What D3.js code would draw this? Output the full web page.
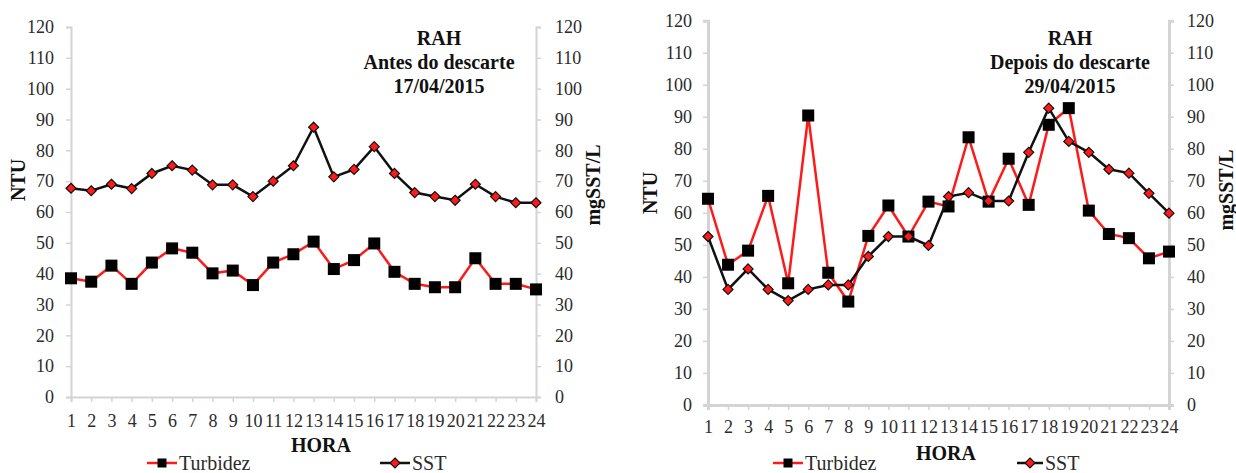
<!DOCTYPE html>
<html>
<head>
<meta charset="utf-8">
<script src="https://cdn.jsdelivr.net/npm/d3@7"></script>
<style>
  html, body { margin: 0; padding: 0; background: #fff; }
  svg { display: block; }
</style>
</head>
<body>
<svg id="chart" width="1236" height="473"></svg>
<script>
// ---------- DATA ----------
const hours = d3.range(1, 25).map(String);
const yTicks = [0, 10, 20, 30, 40, 50, 60, 70, 80, 90, 100, 110, 120];

// Chart A: Antes do descarte 17/04/2015
const titleA = ["RAH", "Antes do descarte", "17/04/2015"];
const turbidezA = [38.5, 37.4, 42.6, 36.7, 43.6, 48.2, 46.8, 40.1, 41.0, 36.3, 43.6, 46.3,
                   50.4, 41.5, 44.4, 49.8, 40.6, 36.7, 35.6, 35.6, 45.0, 36.7, 36.7, 34.9];
const sstA = [67.7, 66.9, 69.0, 67.6, 72.5, 75.0, 73.6, 68.8, 68.8, 65.0, 70.0, 75.0,
              87.5, 71.4, 73.8, 81.2, 72.5, 66.3, 65.0, 63.8, 69.0, 65.0, 63.0, 63.0];

// Chart B: Depois do descarte 29/04/2015
const titleB = ["RAH", "Depois do descarte", "29/04/2015"];
const turbidezB = [64.4, 43.8, 48.2, 65.3, 38.0, 90.4, 41.3, 32.3, 52.8, 62.3, 52.6, 63.5,
                   62.0, 83.6, 63.5, 76.9, 62.5, 87.5, 92.7, 60.7, 53.4, 52.1, 45.8, 47.9];
const sstB = [52.6, 36.1, 42.5, 36.1, 32.6, 36.1, 37.5, 37.5, 46.4, 52.6, 52.6, 49.8,
              65.1, 66.3, 63.7, 63.7, 78.9, 92.7, 82.3, 78.9, 73.6, 72.4, 66.1, 59.9];

const seriesNames = ["Turbidez", "SST"];
const xTitle = "HORA";
const yLeftTitle = "NTU";
const yRightTitle = "mgSST/L";

// ---------- DRAW ----------
const FONT = "'Liberation Serif', 'Times New Roman', Times, 'DejaVu Serif', serif";
const svg = d3.select("#chart").attr("font-family", FONT);
const RED = "#ff1a1a";
const AXIS = "#d4d4d4";
const TXT = "#2b2b2b";

function drawChart(cfg) {
  const g = svg.append("g");
  const x = d3.scalePoint().domain(hours).range([cfg.x0, cfg.x1]);
  const y = d3.scaleLinear().domain([0, 120]).range([cfg.yb, cfg.yt]);

  const axL = d3.axisLeft(y).tickValues(yTicks).tickSize(5).tickPadding(cfg.padL);
  const axR = d3.axisRight(y).tickValues(yTicks).tickSize(5).tickPadding(cfg.padR);
  const axB = d3.axisBottom(x).tickSize(5).tickPadding(cfg.padB);

  const styleAxis = sel => {
    sel.attr("font-family", FONT).attr("font-size", 18);
    sel.select(".domain").attr("stroke", AXIS).attr("stroke-width", cfg.aw);
    sel.selectAll(".tick line").attr("stroke", AXIS).attr("stroke-width", 1.5);
    sel.selectAll(".tick text").attr("fill", TXT).attr("font-family", FONT).attr("font-size", 18);
  };
  g.append("g").attr("transform", `translate(${cfg.x0},0)`).call(axL).call(styleAxis);
  g.append("g").attr("transform", `translate(${cfg.x1},0)`).call(axR).call(styleAxis);
  g.append("g").attr("transform", `translate(0,${cfg.yb})`).call(axB).call(styleAxis);

  const line = d3.line().x((d, i) => x(hours[i])).y(d => y(d));

  // Turbidez: red line, black squares
  g.append("path").datum(cfg.turb).attr("d", line)
    .attr("fill", "none").attr("stroke", RED).attr("stroke-width", 2.5);
  const sq = cfg.sq;
  g.selectAll(".sq").data(cfg.turb).join("rect")
    .attr("x", (d, i) => x(hours[i]) - sq / 2).attr("y", d => y(d) - sq / 2)
    .attr("width", sq).attr("height", sq).attr("fill", "#000");

  // SST: black line, red diamonds
  g.append("path").datum(cfg.sst).attr("d", line)
    .attr("fill", "none").attr("stroke", "#111").attr("stroke-width", 2.5);
  const dm = 5;
  const diamond = `M0,${-dm}L${dm},0L0,${dm}L${-dm},0Z`;
  g.selectAll(".dm").data(cfg.sst).join("path")
    .attr("d", diamond)
    .attr("transform", (d, i) => `translate(${x(hours[i])},${y(d)})`)
    .attr("fill", RED).attr("stroke", "#111").attr("stroke-width", 1.2);

  // title
  g.append("g").selectAll("text").data(cfg.title).join("text")
    .attr("x", cfg.tx).attr("y", (d, i) => cfg.ty[i])
    .attr("text-anchor", "middle").attr("font-weight", "bold").attr("font-family", FONT)
    .attr("font-size", 20).attr("fill", "#111").text(d => d);

  // axis titles
  g.append("text").attr("x", cfg.hx).attr("y", cfg.hy).attr("text-anchor", "middle")
    .attr("font-weight", "bold").attr("font-size", 20).attr("font-family", FONT)
    .attr("fill", "#111").text(xTitle);
  g.append("text").attr("transform", `translate(${cfg.nx},${cfg.ny}) rotate(-90)`)
    .attr("text-anchor", "middle").attr("font-weight", "bold").attr("font-size", 20)
    .attr("font-family", FONT).attr("fill", "#111").text(yLeftTitle);
  g.append("text").attr("transform", `translate(${cfg.mx},${cfg.my}) rotate(-90)`)
    .attr("text-anchor", "middle").attr("font-weight", "bold").attr("font-size", 20)
    .attr("font-family", FONT).attr("fill", "#111").text(yRightTitle);

  // legend
  const lg = g.append("g");
  const lsq = 9;
  lg.append("line").attr("x1", cfg.l1[0]).attr("x2", cfg.l1[1])
    .attr("y1", cfg.ly).attr("y2", cfg.ly).attr("stroke", RED).attr("stroke-width", 2.5);
  lg.append("rect").attr("x", (cfg.l1[0] + cfg.l1[1]) / 2 - lsq / 2).attr("y", cfg.ly - lsq / 2)
    .attr("width", lsq).attr("height", lsq).attr("fill", "#000");
  lg.append("text").attr("x", cfg.l1[1] + 2).attr("y", cfg.lty).attr("font-size", 20)
    .attr("font-family", FONT).attr("fill", TXT).text(seriesNames[0]);
  lg.append("line").attr("x1", cfg.l2[0]).attr("x2", cfg.l2[1])
    .attr("y1", cfg.ly).attr("y2", cfg.ly).attr("stroke", "#111").attr("stroke-width", 2.5);
  lg.append("path").attr("d", diamond)
    .attr("transform", `translate(${(cfg.l2[0] + cfg.l2[1]) / 2},${cfg.ly})`)
    .attr("fill", RED).attr("stroke", "#111").attr("stroke-width", 1.2);
  lg.append("text").attr("x", cfg.l2[1] + 2).attr("y", cfg.lty).attr("font-size", 20)
    .attr("font-family", FONT).attr("fill", TXT).text(seriesNames[1]);
}

drawChart({
  x0: 71, x1: 536, yb: 397, yt: 27, aw: 2,
  padL: 12, padR: 14, padB: 12, sq: 12,
  turb: turbidezA, sst: sstA, title: titleA,
  tx: 439, ty: [45, 69, 93],
  hx: 321, hy: 452, nx: 25, ny: 180, mx: 600, my: 185,
  l1: [147, 177], l2: [380, 410], ly: 463, lty: 470
});

drawChart({
  x0: 708, x1: 1169, yb: 405, yt: 20.7, aw: 3,
  padL: 11, padR: 13, padB: 10, sq: 12,
  turb: turbidezB, sst: sstB, title: titleB,
  tx: 1070, ty: [45, 69, 93],
  hx: 946, hy: 460, nx: 657, ny: 193, mx: 1233, my: 190,
  l1: [773, 803], l2: [1017, 1043], ly: 463, lty: 470
});
</script>
</body>
</html>
